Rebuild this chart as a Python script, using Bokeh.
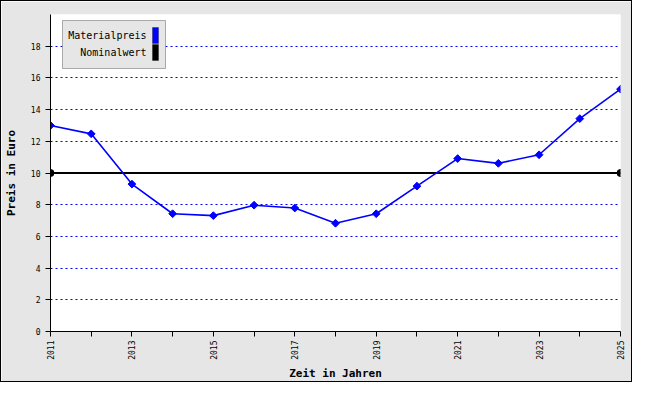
from bokeh.plotting import figure
from bokeh.models import FixedTicker, Range1d, BoxAnnotation, Label
from bokeh.embed import file_html
from bokeh.resources import INLINE
import math

# --- data ---
years = [2011, 2012, 2013, 2014, 2015, 2016, 2017, 2018, 2019, 2020, 2021, 2022, 2023, 2024, 2025]
materialpreis = [13.0, 12.47, 9.3, 7.43, 7.31, 7.97, 7.79, 6.83, 7.43, 9.17, 10.91, 10.61, 11.15, 13.43, 15.29]
nominal_years = [2011, 2025]
nominalwert = [10, 10]
y_ticks = [0, 2, 4, 6, 8, 10, 12, 14, 16, 18]
x_labelled = [2011, 2013, 2015, 2017, 2019, 2021, 2023, 2025]
series_names = ["Materialpreis", "Nominalwert"]
series_colors = ["#0000ff", "#000000"]

FONT = "DejaVu Sans Mono"

W, H = 632, 382
ML, MR, MT, MB = 42, 13, 13, 52
FW, FH = W - ML - MR, H - MT - MB

p = figure(width=W, height=H, output_backend="svg", toolbar_location=None,
           x_range=Range1d(years[0], years[-1]), y_range=Range1d(0, 20),
           min_border_left=ML, min_border_right=MR, min_border_top=MT, min_border_bottom=MB,
           background_fill_color="white", border_fill_color="#e6e6e6",
           outline_line_color=None,
           styles={"border": "1px solid black"})

# grids
p.xgrid.grid_line_color = None
p.ygrid.grid_line_color = "#0000ff"
p.ygrid.grid_line_dash = "2 3"
p.ygrid.grid_line_width = 1
p.ygrid.ticker = FixedTicker(ticks=y_ticks)

# axes
p.xaxis.ticker = FixedTicker(ticks=years)
p.xaxis.major_label_overrides = {y: (str(y) if y in x_labelled else "") for y in years}
p.xaxis.major_label_orientation = math.pi / 2
p.yaxis.ticker = FixedTicker(ticks=y_ticks)
for ax in (p.xaxis[0], p.yaxis[0]):
    ax.axis_line_color = "black"
    ax.major_tick_line_color = "black"
    ax.major_tick_out = 5
    ax.major_tick_in = 0
    ax.minor_tick_line_color = None
    ax.major_label_text_font = FONT
    ax.major_label_text_font_size = "8px"
    ax.major_label_text_color = "black"
    ax.axis_label_text_font = FONT
    ax.axis_label_text_font_size = "11px"
    ax.axis_label_text_font_style = "bold"
    ax.axis_label_text_color = "black"
p.xaxis.axis_label = "Zeit in Jahren"
p.yaxis.axis_label = "Preis in Euro"
p.xaxis.major_label_standoff = 4
p.yaxis.major_label_standoff = 5
p.xaxis.axis_label_standoff = 4
p.yaxis.axis_label_standoff = 10

# series
p.line(nominal_years, nominalwert, line_color=series_colors[1], line_width=2.2)
p.scatter(nominal_years, nominalwert, marker="circle", size=7, fill_color=series_colors[1], line_color=series_colors[1])
p.line(years, materialpreis, line_color=series_colors[0], line_width=1.6)
p.scatter(years, materialpreis, marker="square", angle=math.pi / 4, size=5.5,
          fill_color=series_colors[0], line_color=series_colors[0])

# legend (manual: text right, swatch to the right)
p.add_layout(BoxAnnotation(left=12, right=115, top=FH - 6, bottom=FH - 54,
                           left_units="screen", right_units="screen", top_units="screen", bottom_units="screen",
                           fill_color="#e6e6e6", fill_alpha=1, line_color="black", line_width=1, level="overlay"))
for i, (name, col) in enumerate(zip(series_names, series_colors)):
    top = FH - 13 - i * 17
    p.add_layout(BoxAnnotation(left=102, right=108, top=top, bottom=top - 16,
                               left_units="screen", right_units="screen", top_units="screen", bottom_units="screen",
                               fill_color=col, fill_alpha=1, line_color="black", line_width=1, level="overlay"))
    p.add_layout(Label(x=96, y=top - 8, x_units="screen", y_units="screen", text=name,
                       text_align="right", text_baseline="middle", text_font=FONT,
                       text_font_size="10px", text_color="black", level="overlay"))

open("out.html", "w").write(file_html(p, INLINE))
